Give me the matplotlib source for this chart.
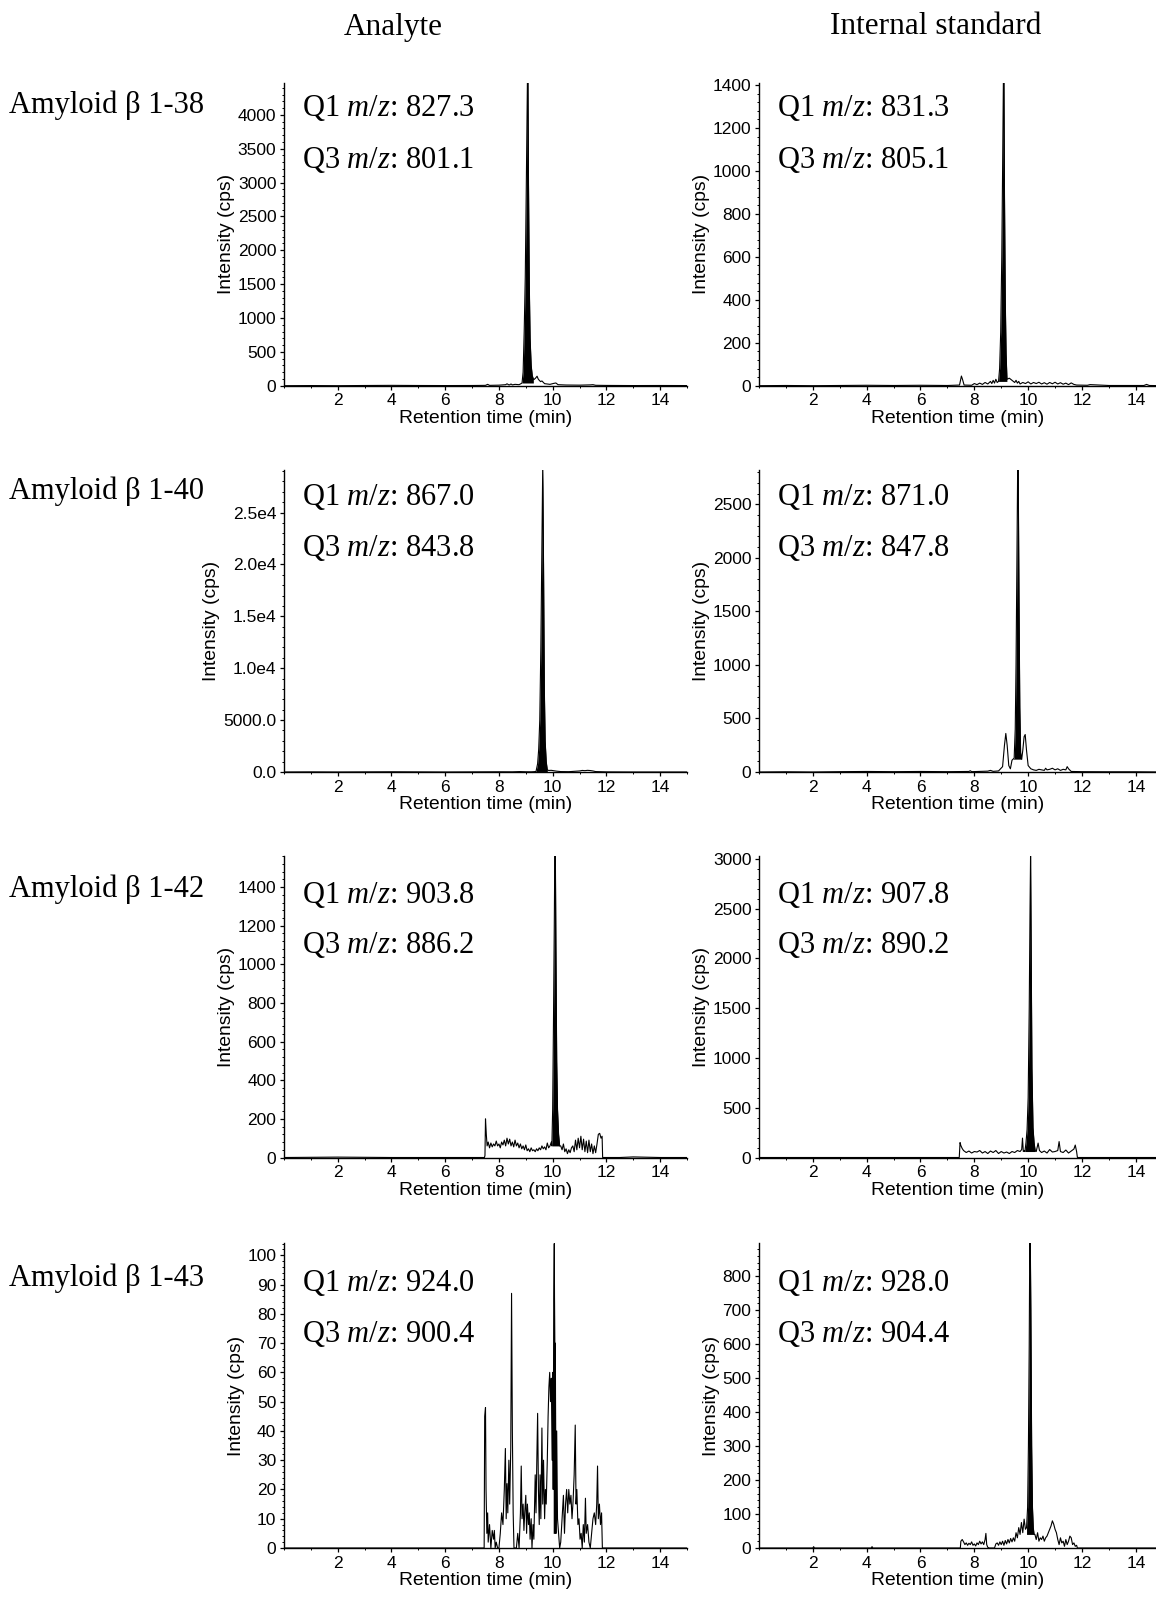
import matplotlib
matplotlib.use("Agg")
import matplotlib.pyplot as plt
from matplotlib.ticker import AutoMinorLocator, FixedLocator

plt.rcParams["font.family"] = ["Liberation Sans", "DejaVu Sans"]
plt.rcParams["mathtext.fontset"] = "custom"
plt.rcParams["mathtext.rm"] = "Liberation Serif"
plt.rcParams["mathtext.it"] = "Liberation Serif:italic"

# ---- labels -------------------------------------------------------------
COLUMN_TITLES = ["Analyte", "Internal standard"]
ROW_LABELS = ["Amyloid \u03b2 1-38", "Amyloid \u03b2 1-40",
              "Amyloid \u03b2 1-42", "Amyloid \u03b2 1-43"]
Q1_ANALYTE = ["827.3", "867.0", "903.8", "924.0"]
Q3_ANALYTE = ["801.1", "843.8", "886.2", "900.4"]
Q1_IS = ["831.3", "871.0", "907.8", "928.0"]
Q3_IS = ["805.1", "847.8", "890.2", "904.4"]

X_TICKS = [2, 4, 6, 8, 10, 12, 14]
Y_MAX_ANALYTE = [4470, 29100, 1561, 104.2]
Y_MAX_IS = [1410, 2820, 3030, 898]
Y_TICKS_ANALYTE = [[0, 500, 1000, 1500, 2000, 2500, 3000, 3500, 4000],
                   [0, 5000, 10000, 15000, 20000, 25000],
                   [0, 200, 400, 600, 800, 1000, 1200, 1400],
                   [0, 10, 20, 30, 40, 50, 60, 70, 80, 90, 100]]
Y_TICKLABELS_40 = ["0.0", "5000.0", "1.0e4", "1.5e4", "2.0e4", "2.5e4"]
Y_TICKS_IS = [[0, 200, 400, 600, 800, 1000, 1200, 1400],
              [0, 500, 1000, 1500, 2000, 2500],
              [0, 500, 1000, 1500, 2000, 2500, 3000],
              [0, 100, 200, 300, 400, 500, 600, 700, 800]]

# ---- traces: (retention time, intensity) ---------------------------------
A38_BASE = [(0.0, 0), (1.0, 2), (2.0, 0), (3.0, 3), (4.0, 5), (5.0, 3), (6.0, 2),
            (7.0, 3), (7.5, 5), (7.58, 20), (7.65, 5), (8.0, 8), (8.25, 15),
            (8.3, 28), (8.38, 10), (8.45, 25), (8.5, 12), (8.6, 20), (8.75, 15),
            (8.82, 30), (9.3, 90), (9.36, 110), (9.42, 140), (9.46, 100),
            (9.5, 80), (9.55, 60), (9.6, 70), (9.7, 30), (9.9, 20), (10.05, 35),
            (10.12, 40), (10.2, 15), (10.5, 10), (11.0, 8), (11.4, 12),
            (11.5, 15), (11.6, 6), (12.0, 4), (13.0, 2), (14.0, 3), (15.0, 2)]
A38_PEAK = [(8.86, 40), (8.90, 200), (8.94, 800), (8.98, 1600), (9.02, 3000),
            (9.06, 4500), (9.08, 4500), (9.10, 3000), (9.13, 1500), (9.16, 700),
            (9.20, 300), (9.24, 150), (9.28, 100)]

IS38_BASE = [(0.0, 0), (1.0, 1), (2.0, 0), (3.0, 1), (4.0, 2), (5.0, 1), (6.0, 2),
             (7.0, 1), (7.45, 3), (7.52, 45), (7.56, 30), (7.62, 3), (7.9, 2),
             (8.0, 10), (8.1, 5), (8.2, 12), (8.3, 6), (8.4, 15), (8.5, 8),
             (8.6, 20), (8.65, 10), (8.7, 25), (8.75, 12), (8.8, 30), (8.85, 15),
             (9.22, 30), (9.3, 35), (9.4, 25), (9.5, 15), (9.55, 25), (9.6, 12),
             (9.65, 20), (9.7, 8), (9.8, 15), (9.9, 10), (10.0, 18), (10.1, 8),
             (10.2, 15), (10.3, 10), (10.4, 16), (10.5, 8), (10.6, 14), (10.7, 7),
             (10.8, 15), (10.9, 9), (11.0, 16), (11.1, 8), (11.2, 14), (11.3, 7),
             (11.4, 12), (11.5, 5), (11.6, 13), (11.7, 6), (11.8, 3), (12.2, 2),
             (12.3, 5), (13.0, 1), (14.3, 1), (14.4, 6), (14.5, 1), (15.0, 0)]
IS38_PEAK = [(8.90, 20), (8.94, 80), (8.98, 250), (9.02, 600), (9.05, 1000),
             (9.08, 1420), (9.10, 1420), (9.12, 900), (9.15, 400), (9.18, 150),
             (9.21, 40)]

A40_BASE = [(0.0, 0), (1.0, 10), (2.0, 0), (3.0, 10), (4.0, 20), (5.0, 10),
            (6.0, 0), (7.0, 10), (8.0, 20), (8.5, 15), (8.78, 40), (9.0, 20),
            (9.2, 15), (9.3, 30), (9.85, 150), (9.95, 160), (10.05, 120),
            (10.15, 80), (10.3, 40), (10.6, 30), (11.0, 100), (11.1, 150),
            (11.2, 130), (11.3, 160), (11.4, 140), (11.5, 100), (11.6, 40),
            (12.0, 10), (13.0, 0), (14.0, 0), (15.0, 0)]
A40_PEAK = [(9.38, 50), (9.44, 800), (9.48, 2200), (9.52, 5000), (9.56, 12000),
            (9.60, 22000), (9.63, 29500), (9.66, 20000), (9.69, 8000),
            (9.72, 3000), (9.76, 1000), (9.80, 200)]

IS40_BASE = [(0.0, 0), (1.0, 2), (2.0, 0), (3.0, 3), (4.0, 5), (5.0, 3), (6.0, 5),
             (7.0, 3), (7.8, 5), (7.85, 12), (7.9, 3), (8.5, 8), (8.6, 15),
             (8.7, 6), (8.9, 10), (9.05, 50), (9.12, 250), (9.17, 360),
             (9.22, 250), (9.28, 60), (9.34, 30), (9.40, 110), (9.80, 200),
             (9.85, 330), (9.89, 350), (9.94, 200), (10.0, 60), (10.1, 30),
             (10.2, 20), (10.3, 15), (10.4, 25), (10.5, 20), (10.6, 15),
             (10.65, 35), (10.7, 20), (10.8, 25), (10.9, 35), (11.0, 20),
             (11.1, 30), (11.2, 15), (11.3, 25), (11.4, 20), (11.45, 50),
             (11.5, 30), (11.6, 5), (12.0, 3), (13.0, 2), (14.0, 2), (15.0, 0)]
IS40_PEAK = [(9.44, 120), (9.48, 130), (9.52, 400), (9.55, 1000), (9.58, 1900),
             (9.61, 2850), (9.63, 2850), (9.66, 1600), (9.69, 600), (9.72, 180),
             (9.76, 120)]

A42_BASE = [(0.0, 0), (2.0, 2), (4.0, 0), (6.0, 0), (7.0, 0), (7.46, 0), (7.48, 10),
            (7.50, 200), (7.53, 120), (7.56, 60), (7.60, 80), (7.65, 50),
            (7.70, 75), (7.75, 55), (7.80, 70), (7.85, 60), (7.90, 85), (7.95, 60),
            (8.00, 70), (8.05, 50), (8.10, 80), (8.15, 65), (8.20, 90), (8.25, 60),
            (8.30, 100), (8.35, 70), (8.40, 95), (8.45, 60), (8.50, 80),
            (8.55, 55), (8.60, 90), (8.65, 60), (8.70, 75), (8.75, 50), (8.80, 70),
            (8.85, 45), (8.90, 60), (8.95, 40), (9.00, 65), (9.05, 35), (9.10, 45),
            (9.15, 30), (9.20, 50), (9.25, 35), (9.30, 40), (9.35, 30), (9.40, 45),
            (9.45, 35), (9.50, 50), (9.55, 40), (9.60, 60), (9.65, 45), (9.70, 55),
            (9.75, 40), (9.80, 75), (9.85, 50), (9.90, 60), (9.95, 80),
            (10.30, 60), (10.35, 40), (10.40, 70), (10.45, 30), (10.50, 45),
            (10.55, 20), (10.60, 40), (10.65, 25), (10.70, 50), (10.75, 60),
            (10.80, 30), (10.85, 90), (10.90, 40), (10.95, 100), (11.00, 50),
            (11.05, 110), (11.10, 40), (11.15, 95), (11.20, 30), (11.25, 85),
            (11.30, 25), (11.35, 90), (11.40, 30), (11.45, 70), (11.50, 20),
            (11.55, 60), (11.60, 25), (11.65, 70), (11.70, 120), (11.75, 125),
            (11.80, 100), (11.84, 110), (11.86, 0), (12.5, 0), (13.0, 3),
            (14.0, 0), (15.0, 0)]
A42_PEAK = [(9.97, 60), (10.00, 250), (10.03, 700), (10.06, 1200), (10.08, 1580),
            (10.10, 1580), (10.12, 1100), (10.15, 500), (10.18, 250), (10.22, 120),
            (10.26, 60)]

IS42_BASE = [(0.0, 0), (2.0, 0), (4.0, 0), (6.0, 0), (7.0, 0), (7.44, 0),
             (7.47, 150), (7.50, 120), (7.55, 90), (7.6, 70), (7.7, 50), (7.8, 65),
             (7.9, 45), (8.0, 60), (8.1, 55), (8.2, 70), (8.3, 45), (8.4, 60),
             (8.5, 40), (8.6, 65), (8.7, 50), (8.8, 70), (8.9, 40), (9.0, 60),
             (9.1, 45), (9.2, 55), (9.3, 40), (9.4, 60), (9.5, 50), (9.6, 70),
             (9.7, 60), (9.76, 80), (9.79, 195), (9.82, 60), (9.86, 70),
             (10.30, 60), (10.37, 145), (10.42, 70), (10.5, 50), (10.6, 65),
             (10.7, 45), (10.8, 80), (10.9, 55), (11.0, 60), (11.1, 70),
             (11.15, 160), (11.2, 60), (11.3, 50), (11.4, 75), (11.5, 45),
             (11.6, 65), (11.7, 85), (11.75, 125), (11.8, 60), (11.83, 0),
             (12.5, 0), (13.0, 0), (14.0, 0), (15.0, 0)]
IS42_PEAK = [(9.88, 60), (9.92, 150), (9.96, 280), (10.00, 600), (10.04, 1500),
             (10.07, 2500), (10.09, 3050), (10.11, 2200), (10.14, 900),
             (10.18, 300), (10.22, 150), (10.26, 70)]

A43_BASE = [(0.0, 0), (7.4, 0), (7.45, 0), (7.47, 45), (7.50, 48), (7.52, 20),
            (7.55, 5), (7.58, 12), (7.60, 2), (7.65, 8), (7.70, 0), (7.75, 6),
            (7.80, 3), (7.83, 6), (7.86, 0), (7.90, 2), (7.95, 0), (8.00, 0),
            (8.05, 5), (8.10, 12), (8.15, 8), (8.20, 20), (8.24, 34), (8.27, 10),
            (8.30, 22), (8.33, 12), (8.37, 30), (8.40, 15), (8.44, 34), (8.47, 87),
            (8.50, 40), (8.53, 12), (8.56, 0), (8.60, 0), (8.65, 0), (8.70, 5),
            (8.75, 0), (8.80, 12), (8.83, 28), (8.86, 10), (8.90, 15), (8.93, 6),
            (8.96, 12), (9.00, 18), (9.03, 5), (9.06, 15), (9.10, 8), (9.13, 12),
            (9.16, 3), (9.20, 10), (9.23, 0), (9.27, 8), (9.30, 3), (9.35, 25),
            (9.38, 12), (9.41, 30), (9.44, 46), (9.47, 20), (9.50, 8), (9.53, 25),
            (9.56, 10), (9.60, 41), (9.63, 15), (9.66, 30), (9.70, 10), (9.73, 20),
            (9.76, 15), (9.80, 30), (9.83, 45), (9.86, 55), (9.89, 60), (9.92, 50),
            (9.95, 58), (9.98, 30), (10.00, 60), (10.15, 40), (10.18, 10),
            (10.22, 5), (10.26, 0), (10.30, 2), (10.35, 10), (10.40, 18),
            (10.44, 5), (10.48, 15), (10.52, 20), (10.56, 12), (10.60, 20),
            (10.64, 15), (10.68, 18), (10.72, 10), (10.76, 16), (10.80, 25),
            (10.84, 42), (10.87, 15), (10.90, 20), (10.94, 8), (10.98, 10),
            (11.02, 3), (11.06, 5), (11.10, 0), (11.14, 8), (11.18, 2), (11.22, 17),
            (11.25, 5), (11.30, 8), (11.35, 2), (11.40, 0), (11.45, 5), (11.50, 10),
            (11.55, 12), (11.60, 8), (11.64, 15), (11.67, 28), (11.70, 10),
            (11.74, 15), (11.78, 8), (11.82, 12), (11.85, 0), (12.5, 0), (15.0, 0)]
A43_PEAK = [(10.02, 20), (10.04, 85), (10.06, 104), (10.08, 60), (10.10, 70),
            (10.12, 5)]

IS43_BASE = [(0.0, 0), (2.0, 0), (2.03, 4), (2.06, 0), (4.17, 0), (4.2, 4),
             (4.23, 0), (7.0, 0), (7.48, 0),
             (7.50, 20), (7.55, 25), (7.60, 18), (7.65, 10), (7.70, 15), (7.75, 8),
             (7.80, 14), (7.85, 10), (7.90, 18), (7.95, 8), (8.00, 12), (8.05, 6),
             (8.10, 15), (8.15, 10), (8.20, 20), (8.25, 12), (8.30, 18), (8.35, 10),
             (8.40, 25), (8.43, 43), (8.46, 10), (8.50, 2), (8.55, 0), (8.75, 0),
             (8.80, 12), (8.85, 15), (8.90, 8), (8.95, 18), (9.00, 10), (9.05, 20),
             (9.10, 8), (9.15, 22), (9.20, 12), (9.25, 25), (9.30, 15), (9.35, 28),
             (9.40, 18), (9.45, 30), (9.50, 20), (9.55, 45), (9.60, 30), (9.65, 60),
             (9.70, 40), (9.75, 75), (9.80, 45), (9.85, 85), (9.90, 55),
             (10.25, 40), (10.30, 25), (10.35, 45), (10.40, 20), (10.45, 30),
             (10.50, 25), (10.55, 35), (10.60, 20), (10.65, 30), (10.70, 35),
             (10.75, 45), (10.80, 55), (10.85, 65), (10.90, 80), (10.95, 70),
             (11.00, 55), (11.05, 45), (11.10, 25), (11.15, 10), (11.20, 30),
             (11.25, 15), (11.30, 20), (11.35, 5), (11.40, 25), (11.45, 10),
             (11.50, 20), (11.55, 35), (11.60, 30), (11.65, 10), (11.70, 15),
             (11.75, 5), (11.80, 8), (11.83, 0), (12.5, 0), (15.0, 0)]
IS43_PEAK = [(9.94, 60), (9.98, 120), (10.01, 300), (10.04, 600), (10.06, 900),
             (10.08, 900), (10.10, 700), (10.13, 300), (10.16, 120), (10.19, 60),
             (10.22, 40)]

ANALYTE_TRACES = [(A38_BASE, A38_PEAK), (A40_BASE, A40_PEAK),
                  (A42_BASE, A42_PEAK), (A43_BASE, A43_PEAK)]
IS_TRACES = [(IS38_BASE, IS38_PEAK), (IS40_BASE, IS40_PEAK),
             (IS42_BASE, IS42_PEAK), (IS43_BASE, IS43_PEAK)]

# ---- layout (pixels in a 1156 x 1598 canvas) ---------------------------
W, H = 1156, 1598
ROWS_PX = [(83, 385.7), (470, 772), (856, 1157.5), (1243, 1548)]
COLS_PX = [(284, 403, 15.0), (759, 397, 14.75)]
Q_Y = [(0.917, 0.746), (0.912, 0.741), (0.870, 0.705), (0.870, 0.702)]
ROW_LABEL_Y = [105, 491, 889, 1278]
TITLE_X = [393, 936]

SERIF = ["Liberation Serif", "DejaVu Serif"]


def draw_panel(ax, base, peak, ymax, yticks, q1, q3, qy, xmax, yticklabels=None):
    pts = sorted(base + peak)
    t = [p[0] for p in pts]
    y = [p[1] for p in pts]
    pt = [p[0] for p in peak]
    py = [p[1] for p in peak]
    ax.fill_between(pt, py, min(py), color="black", lw=0)
    ax.plot(t, y, color="black", lw=0.8)

    ax.set_xlim(0, xmax)
    ax.set_ylim(0, ymax)
    ax.xaxis.set_major_locator(FixedLocator(X_TICKS))
    ax.xaxis.set_minor_locator(AutoMinorLocator(2))
    ax.set_yticks(yticks)
    if yticklabels is not None:
        ax.set_yticklabels(yticklabels)
    ax.yaxis.set_minor_locator(AutoMinorLocator(5))

    for side in ("top", "right"):
        ax.spines[side].set_visible(False)
    for side in ("left", "bottom"):
        ax.spines[side].set_linewidth(1.0)
    ax.tick_params(which="major", length=3, width=0.9, labelsize=12.5, pad=2.5)
    ax.tick_params(which="minor", length=1.6, width=0.7)
    ax.set_xlabel("Retention time (min)", fontsize=13.9, labelpad=1)
    ax.set_ylabel("Intensity (cps)", fontsize=13.9, labelpad=2)

    ax.annotate(f"Q1 $m/z$: {q1}", xy=(0, qy[0]), xycoords="axes fraction",
                xytext=(13, 0), textcoords="offset points", va="center",
                fontsize=22, family=SERIF)
    ax.annotate(f"Q3 $m/z$: {q3}", xy=(0, qy[1]), xycoords="axes fraction",
                xytext=(13, 0), textcoords="offset points", va="center",
                fontsize=22, family=SERIF)


def main() -> None:
    fig = plt.figure(figsize=(W / 100, H / 100), dpi=100)

    for r, (top, bottom) in enumerate(ROWS_PX):
        for c, (x0, width, xmax) in enumerate(COLS_PX):
            ax = fig.add_axes([x0 / W, 1 - bottom / H, width / W, (bottom - top) / H])
            if c == 0:
                base, peak = ANALYTE_TRACES[r]
                labels = Y_TICKLABELS_40 if r == 1 else None
                draw_panel(ax, base, peak, Y_MAX_ANALYTE[r], Y_TICKS_ANALYTE[r],
                           Q1_ANALYTE[r], Q3_ANALYTE[r], Q_Y[r], xmax, labels)
            else:
                base, peak = IS_TRACES[r]
                draw_panel(ax, base, peak, Y_MAX_IS[r], Y_TICKS_IS[r],
                           Q1_IS[r], Q3_IS[r], Q_Y[r], xmax)

        fig.text(9 / W, 1 - ROW_LABEL_Y[r] / H, ROW_LABELS[r], fontsize=22,
                 family=SERIF, va="center", ha="left")

    for c, title in enumerate(COLUMN_TITLES):
        fig.text(TITLE_X[c] / W, 1 - 27 / H, title, fontsize=22.5, family=SERIF,
                 va="center", ha="center")

    fig.savefig("out.png", dpi=100)
    plt.close(fig)


if __name__ == "__main__":
    main()
